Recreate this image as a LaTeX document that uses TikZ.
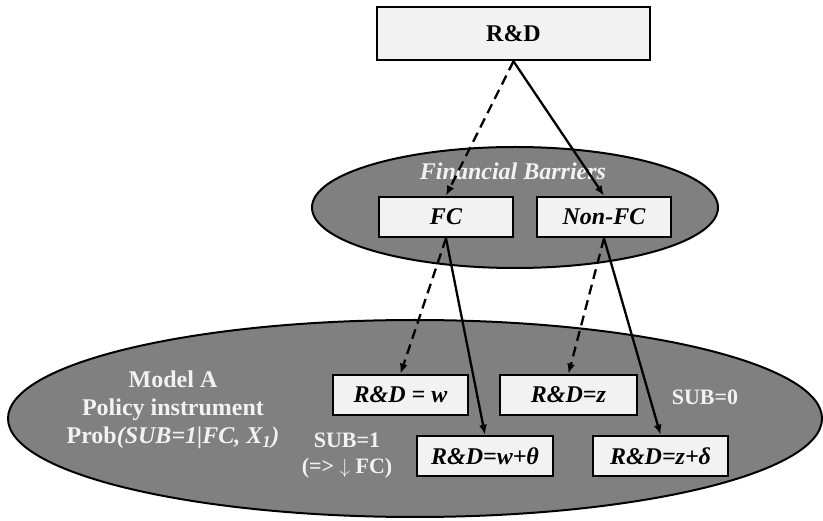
\documentclass[tikz,border=0pt]{standalone}
\usepackage{fontspec}
\setmainfont{Liberation Serif}
\usepackage{tikz}
\usetikzlibrary{arrows.meta,positioning,shapes.geometric}
\definecolor{BoxGray}{RGB}{242,242,242}
\definecolor{CloudGray}{RGB}{128,128,128}

\tikzset{
  valbox/.style={draw=black, line width=2.6pt, fill=BoxGray, inner sep=0pt,
                 minimum height=40pt, font=\fontsize{24}{28}\selectfont\bfseries\itshape},
  cloud/.style={ellipse, draw=black, line width=2pt, fill=CloudGray, inner sep=0pt},
  whitetext/.style={text=BoxGray, font=\fontsize{24}{28}\selectfont\bfseries, align=center},
  subtext/.style={text=BoxGray, font=\fontsize{22}{26}\selectfont\bfseries, align=center},
  link/.style={line width=2.3pt, -{Latex[length=10pt,width=8pt]}},
  dashlink/.style={link, dash pattern=on 10pt off 6pt}
}

\begin{document}
\begin{tikzpicture}[x=1pt, y=-1pt]
\useasboundingbox (0,0) rectangle (823,521);

% ellipses
\node[cloud, minimum width=406pt, minimum height=121pt] (barriers) at (515,207.5) {};
\node[cloud, minimum width=814pt, minimum height=197pt] (model) at (415,418.5) {};

% boxes
\node[valbox, minimum width=273pt, minimum height=53pt, font=\fontsize{24}{28}\selectfont\bfseries] (rd) at (513.5,33.5) {R\&D};
\node[valbox, minimum width=134pt] (fc) at (446,217) {FC};
\node[valbox, minimum width=134pt] (nonfc) at (604,217) {Non-FC};
\node[valbox, minimum width=135pt] (rdw) at (400.5,395) {R\&D = w};
\node[valbox, minimum width=137pt] (rdz) at (568.5,395) {R\&D=z};
\node[valbox, minimum width=136pt] (rdwt) at (485,456) {R\&D=w+θ};
\node[valbox, minimum width=135pt] (rdzd) at (660.5,456) {R\&D=z+δ};

% labels
\node[whitetext, font=\fontsize{24}{28}\selectfont\bfseries\itshape] (fbtitle) at (513,171) {Financial Barriers};
\node[whitetext] (modeltitle) at (173,410) {Model A\\Policy instrument\\Prob\textit{(SUB=1|FC, X\textsubscript{1})}};
\node[subtext] (sub1) at (347,456) {SUB=1\\(=> $\downarrow$ FC)};
\node[subtext] (sub0) at (705,397) {SUB=0};

% connectors
\draw[dashlink] (rd.south) -- (fc.north);
\draw[link] (rd.south) -- (nonfc.north);
\draw[dashlink] (fc.south) -- (rdw.north);
\draw[link] (fc.south) -- (rdwt.north);
\draw[dashlink] (nonfc.south) -- (rdz.north);
\draw[link] (nonfc.south) -- (rdzd.north);
\end{tikzpicture}
\end{document}
